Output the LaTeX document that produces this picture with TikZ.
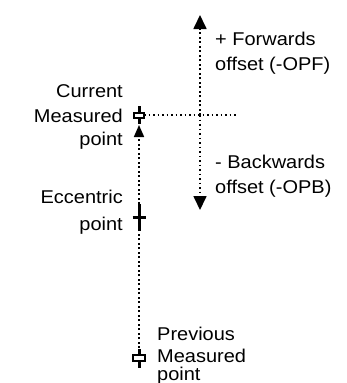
\documentclass[tikz,border=0pt]{standalone}
\usepackage{fontspec}
\newfontfamily\lab[FakeStretch=1.08]{Liberation Sans}
\usetikzlibrary{arrows.meta}
\begin{document}
\begin{tikzpicture}[x=1pt,y=-1pt,
  lbl/.style={font=\lab\fontsize{18.5}{25}\selectfont, inner sep=0pt, align=left},
  lblr/.style={lbl, align=right},
  dotline/.style={line width=1.7pt, dash pattern=on 1.7pt off 2.8pt},
  bigtip/.style={-{Triangle[width=13pt,length=14pt]}},
  smalltip/.style={-{Triangle[width=10pt,length=12pt]}},
  markbar/.style={line width=3pt},
  markbox/.style={draw, line width=2pt, fill=white}
]
\useasboundingbox (0,0) rectangle (347,383);
% points
\coordinate (cur) at (139,115);
\coordinate (ecc) at (139,217);
\coordinate (prev) at (139,357);
\coordinate (curtip) at (139,125);
\coordinate (ref) at (200,115);
\coordinate (hend) at (236,115);
\coordinate (fwd) at (200,15);
\coordinate (bwd) at (200,210);
% connectors
\draw[dotline] (cur) ++(5,0) coordinate (curR) (curR) -- (hend);
\draw[dotline, bigtip] (ref) -- (fwd);
\draw[dotline, bigtip] (ref) -- (bwd);
\draw[dotline, smalltip] (prev) -- (curtip);
% markers
\draw[markbar] (139,106) -- (139,124);
\draw[markbox] (134,112.5) rectangle (144,118);
\draw[markbar] (139,204) -- (139,231);
\draw[markbar] (132.5,217) -- (145.5,217);
\draw[markbar] (139,349) -- (139,368);
\draw[markbox] (133,355) rectangle (145,361);
% labels
\node[lbl, anchor=base west] (f1) at (215,45) {+ Forwards};
\node[lbl, anchor=base west] (f2) at (215,70) {offset (-OPF)};
\node[lbl, anchor=base west] (b1) at (215,168) {- Backwards};
\node[lbl, anchor=base west] (b2) at (215,193) {offset (-OPB)};
\node[lblr, anchor=base east] (c1) at (123,97) {Current};
\node[lblr, anchor=base east] (c2) at (123,122) {Measured};
\node[lblr, anchor=base east] (c3) at (123,145) {point};
\node[lblr, anchor=base east] (e1) at (123,203) {Eccentric};
\node[lblr, anchor=base east] (e2) at (123,230) {point};
\node[lbl, anchor=base west] (p1) at (157,340) {Previous};
\node[lbl, anchor=base west] (p2) at (157,362) {Measured};
\node[lbl, anchor=base west] (p3) at (157,380) {point};
\end{tikzpicture}
\end{document}
